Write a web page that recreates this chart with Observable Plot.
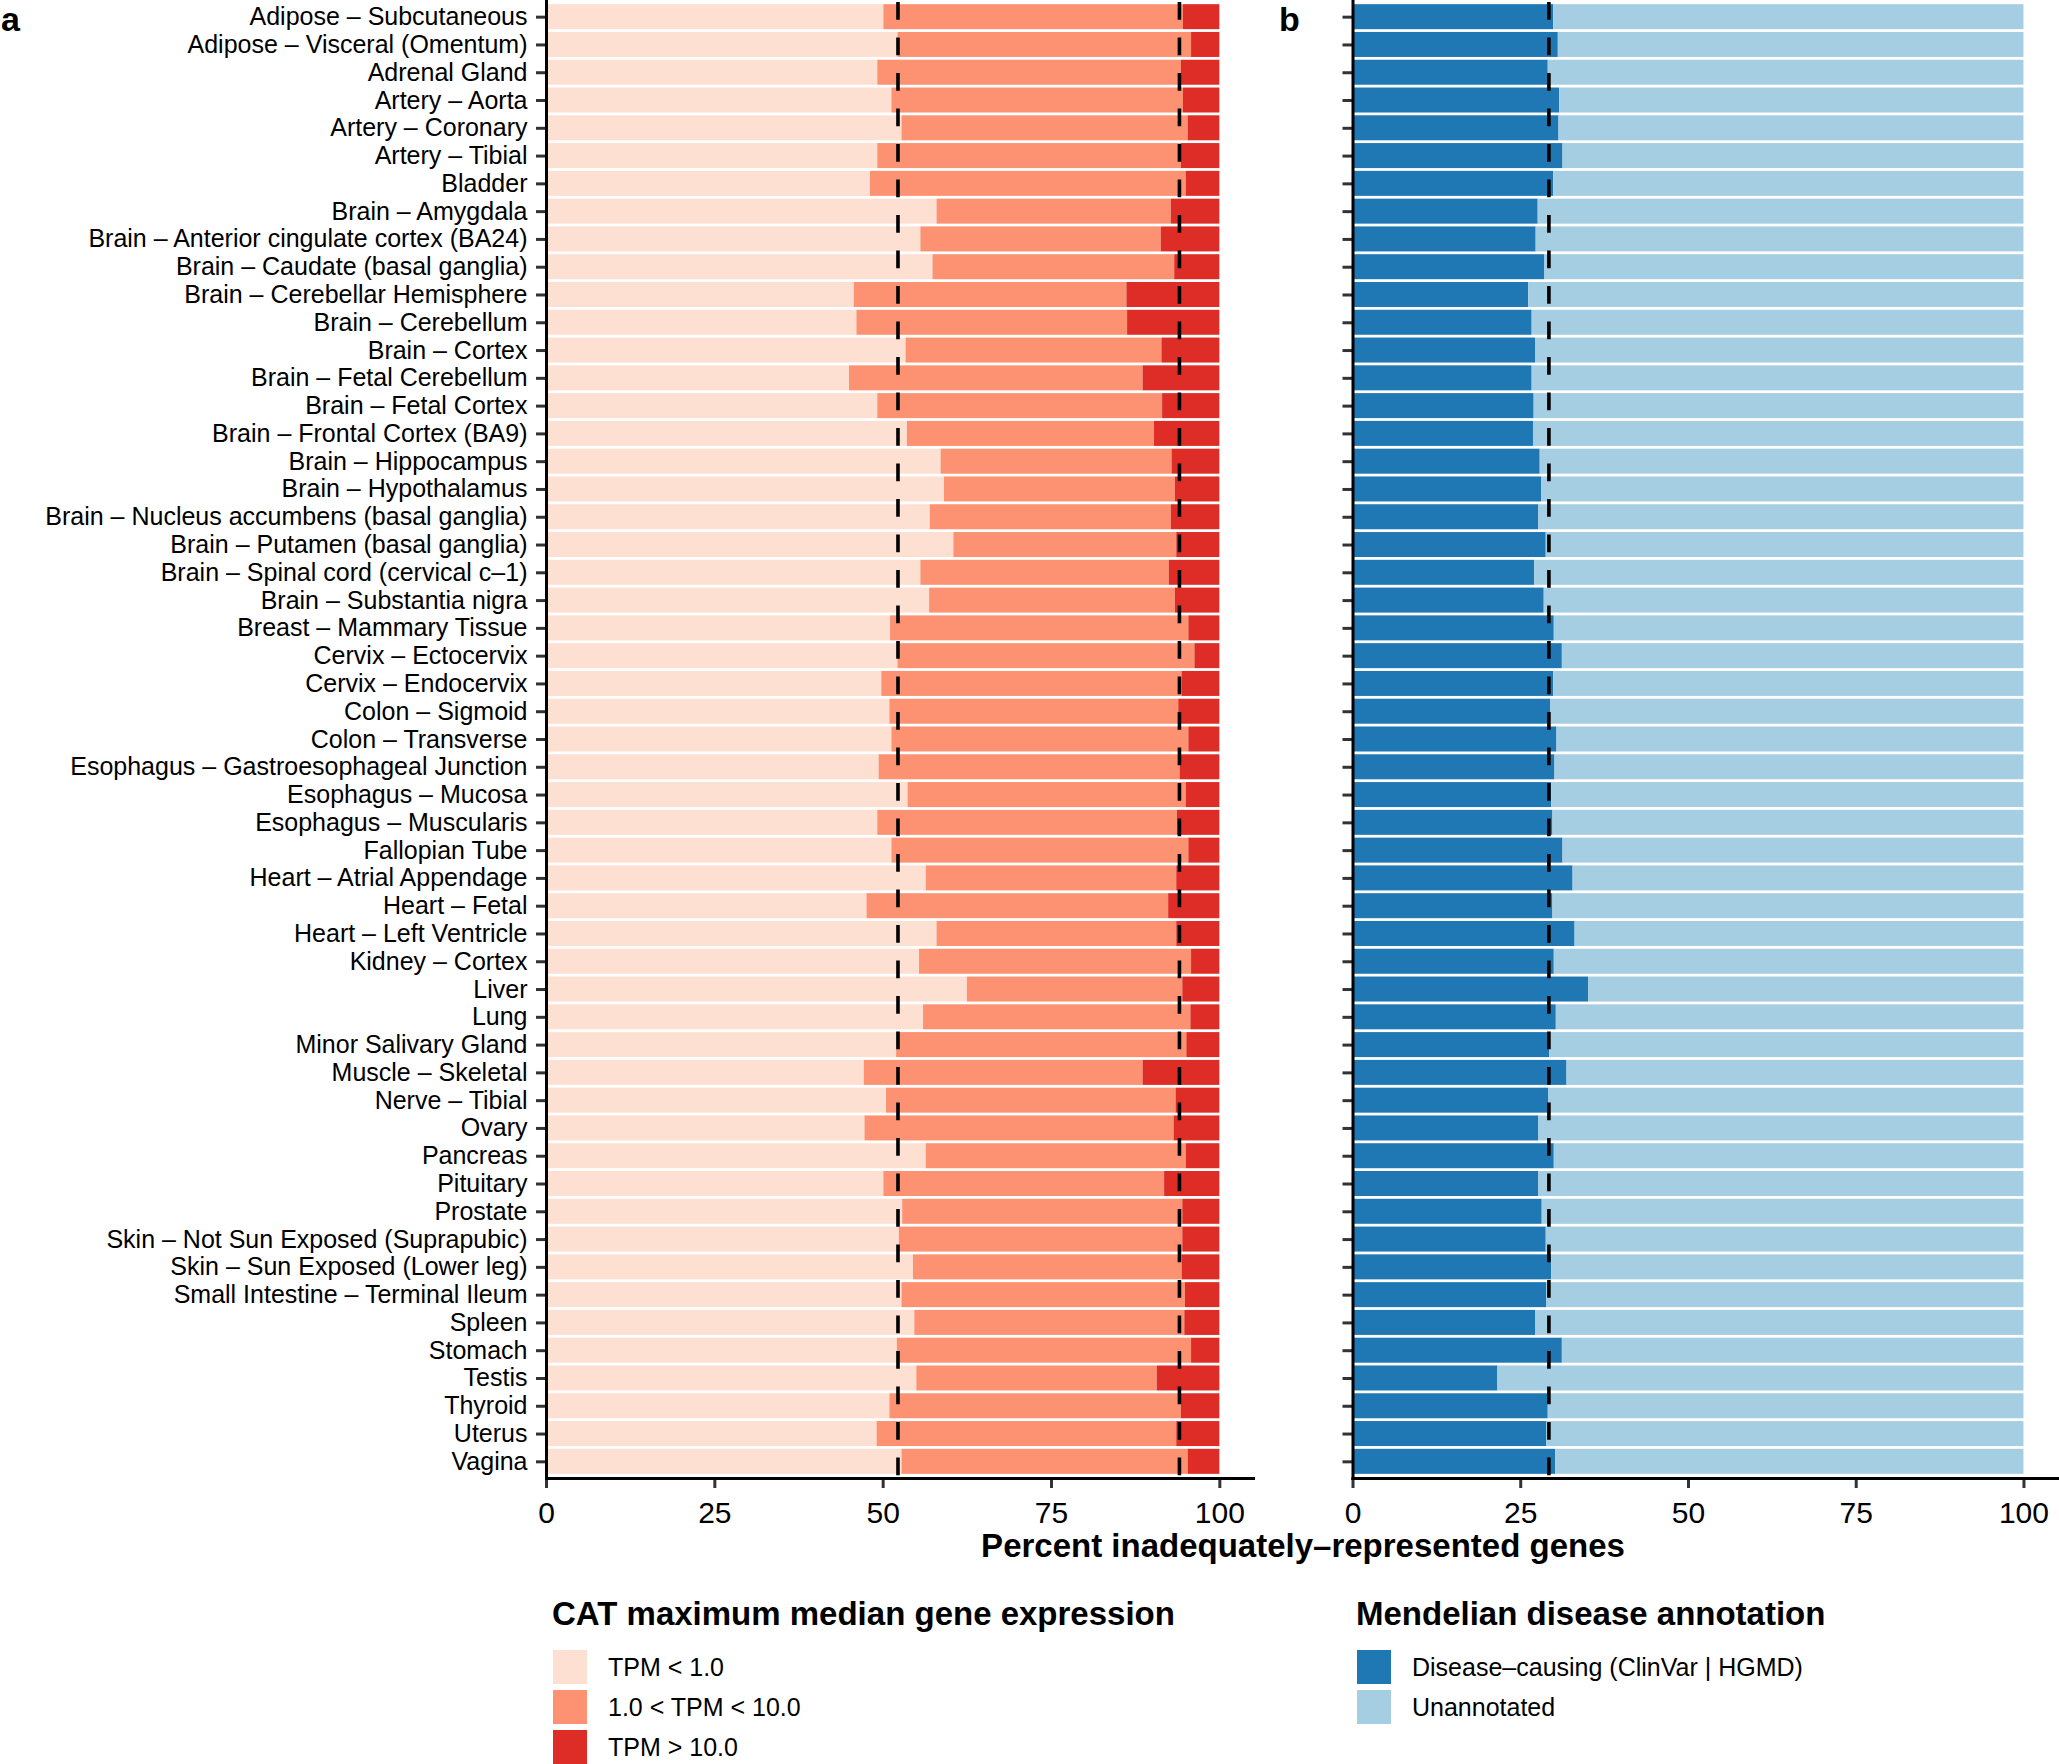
<!DOCTYPE html>
<html>
<head>
<meta charset="utf-8">
<script src="https://cdn.jsdelivr.net/npm/d3@7"></script>
<script src="https://cdn.jsdelivr.net/npm/@observablehq/plot@0.6"></script>
<style>
  html, body { margin: 0; padding: 0; background: #fff; }
  body { font-family: "Liberation Sans", Arial, Helvetica, sans-serif; color: #000; }
  #root { position: relative; width: 2059px; height: 1764px; overflow: hidden; }
  .abs { position: absolute; }
  .tag { font-weight: bold; font-size: 34px; line-height: 1.15; }
  .ltitle { font-weight: bold; font-size: 33px; white-space: nowrap; }
  .litem { display: flex; align-items: center; height: 40px; }
  .lkey { width: 34px; height: 34px; flex: none; }
  .ltext { font-size: 25px; margin-left: 21px; white-space: nowrap; }
</style>
</head>
<body>
<div id="root"></div>
<script>
// ---------------- data ----------------
const tissues = [
  "Adipose – Subcutaneous",
  "Adipose – Visceral (Omentum)",
  "Adrenal Gland",
  "Artery – Aorta",
  "Artery – Coronary",
  "Artery – Tibial",
  "Bladder",
  "Brain – Amygdala",
  "Brain – Anterior cingulate cortex (BA24)",
  "Brain – Caudate (basal ganglia)",
  "Brain – Cerebellar Hemisphere",
  "Brain – Cerebellum",
  "Brain – Cortex",
  "Brain – Fetal Cerebellum",
  "Brain – Fetal Cortex",
  "Brain – Frontal Cortex (BA9)",
  "Brain – Hippocampus",
  "Brain – Hypothalamus",
  "Brain – Nucleus accumbens (basal ganglia)",
  "Brain – Putamen (basal ganglia)",
  "Brain – Spinal cord (cervical c–1)",
  "Brain – Substantia nigra",
  "Breast – Mammary Tissue",
  "Cervix – Ectocervix",
  "Cervix – Endocervix",
  "Colon – Sigmoid",
  "Colon – Transverse",
  "Esophagus – Gastroesophageal Junction",
  "Esophagus – Mucosa",
  "Esophagus – Muscularis",
  "Fallopian Tube",
  "Heart – Atrial Appendage",
  "Heart – Fetal",
  "Heart – Left Ventricle",
  "Kidney – Cortex",
  "Liver",
  "Lung",
  "Minor Salivary Gland",
  "Muscle – Skeletal",
  "Nerve – Tibial",
  "Ovary",
  "Pancreas",
  "Pituitary",
  "Prostate",
  "Skin – Not Sun Exposed (Suprapubic)",
  "Skin – Sun Exposed (Lower leg)",
  "Small Intestine – Terminal Ileum",
  "Spleen",
  "Stomach",
  "Testis",
  "Thyroid",
  "Uterus",
  "Vagina"
];

// panel a: percent of inadequately-represented genes by CAT max median expression
const tpmLow = [50.1,52.2,49.2,51.3,52.8,49.2,48.1,58.0,55.6,57.4,
                45.7,46.1,53.4,45.0,49.2,53.6,58.6,59.1,57.0,60.5,
                55.6,56.9,51.1,52.2,49.8,51.0,51.3,49.4,53.7,49.2,
                51.3,56.4,47.6,58.0,55.4,62.5,56.0,52.0,47.2,50.5,
                47.3,56.4,50.1,52.9,52.4,54.5,52.8,54.7,52.1,55.0,
                51.0,49.1,52.8];
const tpmMid = [44.5,43.6,45.1,43.3,42.5,45.1,46.9,34.8,35.7,35.9,
                40.5,40.2,38.0,43.6,42.3,36.7,34.3,34.3,35.8,33.1,
                36.9,36.5,44.3,44.1,44.6,42.9,44.1,44.7,41.3,44.5,
                44.1,37.2,44.8,35.6,40.4,32.0,39.7,43.1,41.4,43.0,
                45.9,38.6,41.7,41.6,42.1,39.9,42.1,40.1,43.7,35.7,
                43.3,44.5,42.5];
const tpmHigh = [5.4,4.2,5.7,5.4,4.7,5.7,5.0,7.2,8.7,6.7,
                 13.8,13.7,8.6,11.4,8.5,9.7,7.1,6.6,7.2,6.4,
                 7.5,6.6,4.6,3.7,5.6,6.1,4.6,5.9,5.0,6.3,
                 4.6,6.4,7.6,6.4,4.2,5.5,4.3,4.9,11.4,6.5,
                 6.8,5.0,8.2,5.5,5.5,5.6,5.1,5.2,4.2,9.3,
                 5.7,6.4,4.7];
const exprLevels = ["TPM < 1.0", "1.0 < TPM < 10.0", "TPM > 10.0"];
const exprColors = ["#FEE0D2", "#FC9272", "#DE2D26"];
const exprMeanLines = [52.2, 94.0];

// panel b: Mendelian disease annotation
const diseaseCausing = [29.9,30.6,29.1,30.8,30.7,31.3,29.9,27.6,27.3,28.6,
                        26.2,26.7,27.2,26.7,27.0,26.9,27.9,28.1,27.7,28.8,
                        27.1,28.5,30.0,31.2,29.9,29.5,30.4,30.1,29.6,29.8,
                        31.3,32.8,29.8,33.1,30.0,35.1,30.3,29.3,31.9,29.2,
                        27.7,30.0,27.7,28.2,28.8,29.6,28.9,27.2,31.2,21.6,
                        29.1,28.9,30.2];
const unannotated = [70.1,69.4,70.9,69.2,69.3,68.7,70.1,72.4,72.7,71.4,
                     73.8,73.3,72.8,73.3,73.0,73.1,72.1,71.9,72.3,71.2,
                     72.9,71.5,70.0,68.8,70.1,70.5,69.6,69.9,70.4,70.2,
                     68.7,67.2,70.2,66.9,70.0,64.9,69.7,70.7,68.1,70.8,
                     72.3,70.0,72.3,71.8,71.2,70.4,71.1,72.8,68.8,78.4,
                     70.9,71.1,69.8];
const annotLevels = ["Disease–causing (ClinVar | HGMD)", "Unannotated"];
const annotColors = ["#1F78B4", "#A6CEE3"];
const annotMeanLines = [29.2];

const xTicks = [0, 25, 50, 75, 100];
const xTitle = "Percent inadequately–represented genes";
const exprTitle = "CAT maximum median gene expression";
const annotTitle = "Mendelian disease annotation";

// ---------------- tables ----------------
const exprSeries = [tpmLow, tpmMid, tpmHigh];
const exprRows = [];
tissues.forEach((t, i) => exprLevels.forEach((lv, k) => exprRows.push({tissue: t, level: lv, value: exprSeries[k][i]})));
const annotSeries = [diseaseCausing, unannotated];
const annotRows = [];
tissues.forEach((t, i) => annotLevels.forEach((lv, k) => annotRows.push({tissue: t, level: lv, value: annotSeries[k][i]})));

// ---------------- layout ----------------
const FONT = '"Liberation Sans", Arial, Helvetica, sans-serif';
const H = 1530, MB = 52, MT = 0;
const yScale = {domain: tissues, axis: null, paddingInner: 0.1, paddingOuter: 0.15};
const dash = {stroke: "black", strokeWidth: 3.6, strokeDasharray: "17.75,17.75", strokeDashoffset: -2};

function panel({rows, levels, colors, means, width, marginLeft, marginRight, showLabels}) {
  return Plot.plot({
    width, height: H, marginLeft, marginRight, marginTop: MT, marginBottom: MB,
    style: {fontFamily: FONT, color: "black", background: "transparent", overflow: "visible"},
    x: {domain: [0, 105], axis: null},
    y: yScale,
    color: {domain: levels, range: colors},
    marks: [
      Plot.barX(rows, {x: "value", y: "tissue", fill: "level"}),
      Plot.ruleX(means, dash),
      Plot.axisY({
        tickSize: 10, tickPadding: 9, fontSize: 25, stroke: "#333", strokeWidth: 3,
        fill: "black", label: null,
        tickFormat: showLabels ? (d) => d : () => ""
      }),
      Plot.axisX({
        ticks: xTicks, tickSize: 10, tickPadding: 13, fontSize: 30,
        stroke: "#333", strokeWidth: 3, fill: "black", label: null
      }),
      Plot.frame({anchor: "left", stroke: "black", strokeWidth: 3}),
      Plot.frame({anchor: "bottom", stroke: "black", strokeWidth: 3})
    ]
  });
}

const root = document.getElementById("root");

const pa = panel({rows: exprRows, levels: exprLevels, colors: exprColors, means: exprMeanLines,
                  width: 1265, marginLeft: 546, marginRight: 12, showLabels: true});
const wa = document.createElement("div");
wa.className = "abs"; wa.style.left = "0px"; wa.style.top = "0px";
wa.appendChild(pa); root.appendChild(wa);

const pb = panel({rows: annotRows, levels: annotLevels, colors: annotColors, means: annotMeanLines,
                  width: 797, marginLeft: 90.5, marginRight: 2, showLabels: false});
const wb = document.createElement("div");
wb.className = "abs"; wb.style.left = "1262px"; wb.style.top = "0px";
wb.appendChild(pb); root.appendChild(wb);

// panel tags
function addDiv(cls, text, left, top, extra) {
  const d = document.createElement("div");
  d.className = "abs " + cls;
  d.textContent = text;
  d.style.left = left + "px"; d.style.top = top + "px";
  if (extra) Object.assign(d.style, extra);
  root.appendChild(d);
  return d;
}
addDiv("tag", "a", 1, 0);
addDiv("tag", "b", 1279, 0);

// shared x-axis title
addDiv("ltitle", xTitle, 1303, 1527, {transform: "translateX(-50%)", fontSize: "33px"});

// legends
function legend(title, levels, colors, left) {
  const box = document.createElement("div");
  box.className = "abs";
  box.style.left = left + "px"; box.style.top = "1595px";
  const t = document.createElement("div");
  t.className = "ltitle"; t.textContent = title;
  t.style.height = "52px"; t.style.lineHeight = "38px";
  box.appendChild(t);
  levels.forEach((lv, i) => {
    const item = document.createElement("div");
    item.className = "litem";
    const k = document.createElement("div");
    k.className = "lkey"; k.style.background = colors[i];
    k.style.marginLeft = "1px";
    const s = document.createElement("div");
    s.className = "ltext"; s.textContent = lv;
    item.appendChild(k); item.appendChild(s);
    box.appendChild(item);
  });
  root.appendChild(box);
}
legend(exprTitle, exprLevels, exprColors, 552);
legend(annotTitle, annotLevels, annotColors, 1356);
</script>
</body>
</html>
